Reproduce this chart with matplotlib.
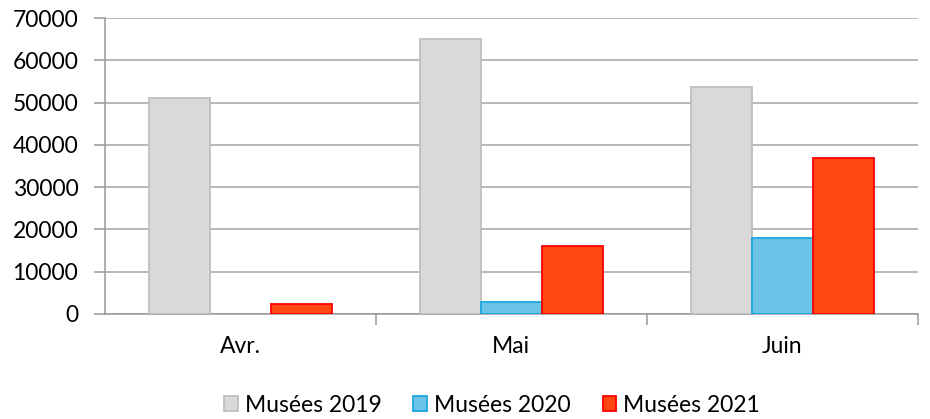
import matplotlib.pyplot as plt
import numpy as np

plt.rcParams['font.family'] = ['Lato', 'DejaVu Sans']

# Data
months = ['Avr.', 'Mai', 'Juin']
series = ['Musées 2019', 'Musées 2020', 'Musées 2021']
v2019 = [51000, 65000, 53700]
v2020 = [0, 2900, 18000]
v2021 = [2400, 16000, 37000]

fills = ['#D9D9D9', '#6CC3E8', '#FF4713']
edges = ['#BFBFBF', '#1AA7E0', '#FF0000']

w = 0.225
x = np.arange(len(months))

fig = plt.figure(figsize=(9.3, 4.19), dpi=100)
ax = fig.add_axes([0.1126, 0.2506, 0.8744, 0.7064])

handles = []
for i, vals in enumerate([v2019, v2020, v2021]):
    lw = [1.3 if v > 0 else 0 for v in vals]
    b = ax.bar(x + (i - 1) * w, vals, width=w, color=fills[i], edgecolor=edges[i],
               linewidth=lw, label=series[i], zorder=3)
    handles.append(b)

ax.set_xlim(-0.5, 2.5)
ax.set_ylim(0, 70000)
ax.set_yticks(np.arange(0, 70001, 10000))
ax.yaxis.grid(True, color='#A6A6A6', linewidth=1.1, zorder=0)

for s in ['top', 'right']:
    ax.spines[s].set_visible(False)
for s in ['left', 'bottom']:
    ax.spines[s].set_color('#999999')
    ax.spines[s].set_linewidth(1.1)

ax.set_xticks(x)
ax.set_xticklabels(months)
ax.tick_params(axis='x', length=0, pad=16, labelsize=16.5)
ax.set_xticks([0.5, 1.5, 2.5], minor=True)
ax.tick_params(axis='x', which='minor', length=8, color='#999999', width=1.1)
ax.tick_params(axis='y', length=8, color='#999999', width=1.1, labelsize=16.5, pad=11)

fig.legend(handles=[plt.Rectangle((0, 0), 1, 1, facecolor=fills[i], edgecolor=edges[i], linewidth=1.3)
                    for i in range(3)],
           labels=series, loc='center', bbox_to_anchor=(0.529, 0.033), ncol=3,
           frameon=False, fontsize=16.5, handlelength=0.6, handleheight=0.6,
           handletextpad=0.3, columnspacing=1.4)

fig.savefig('out.png', dpi=100)
